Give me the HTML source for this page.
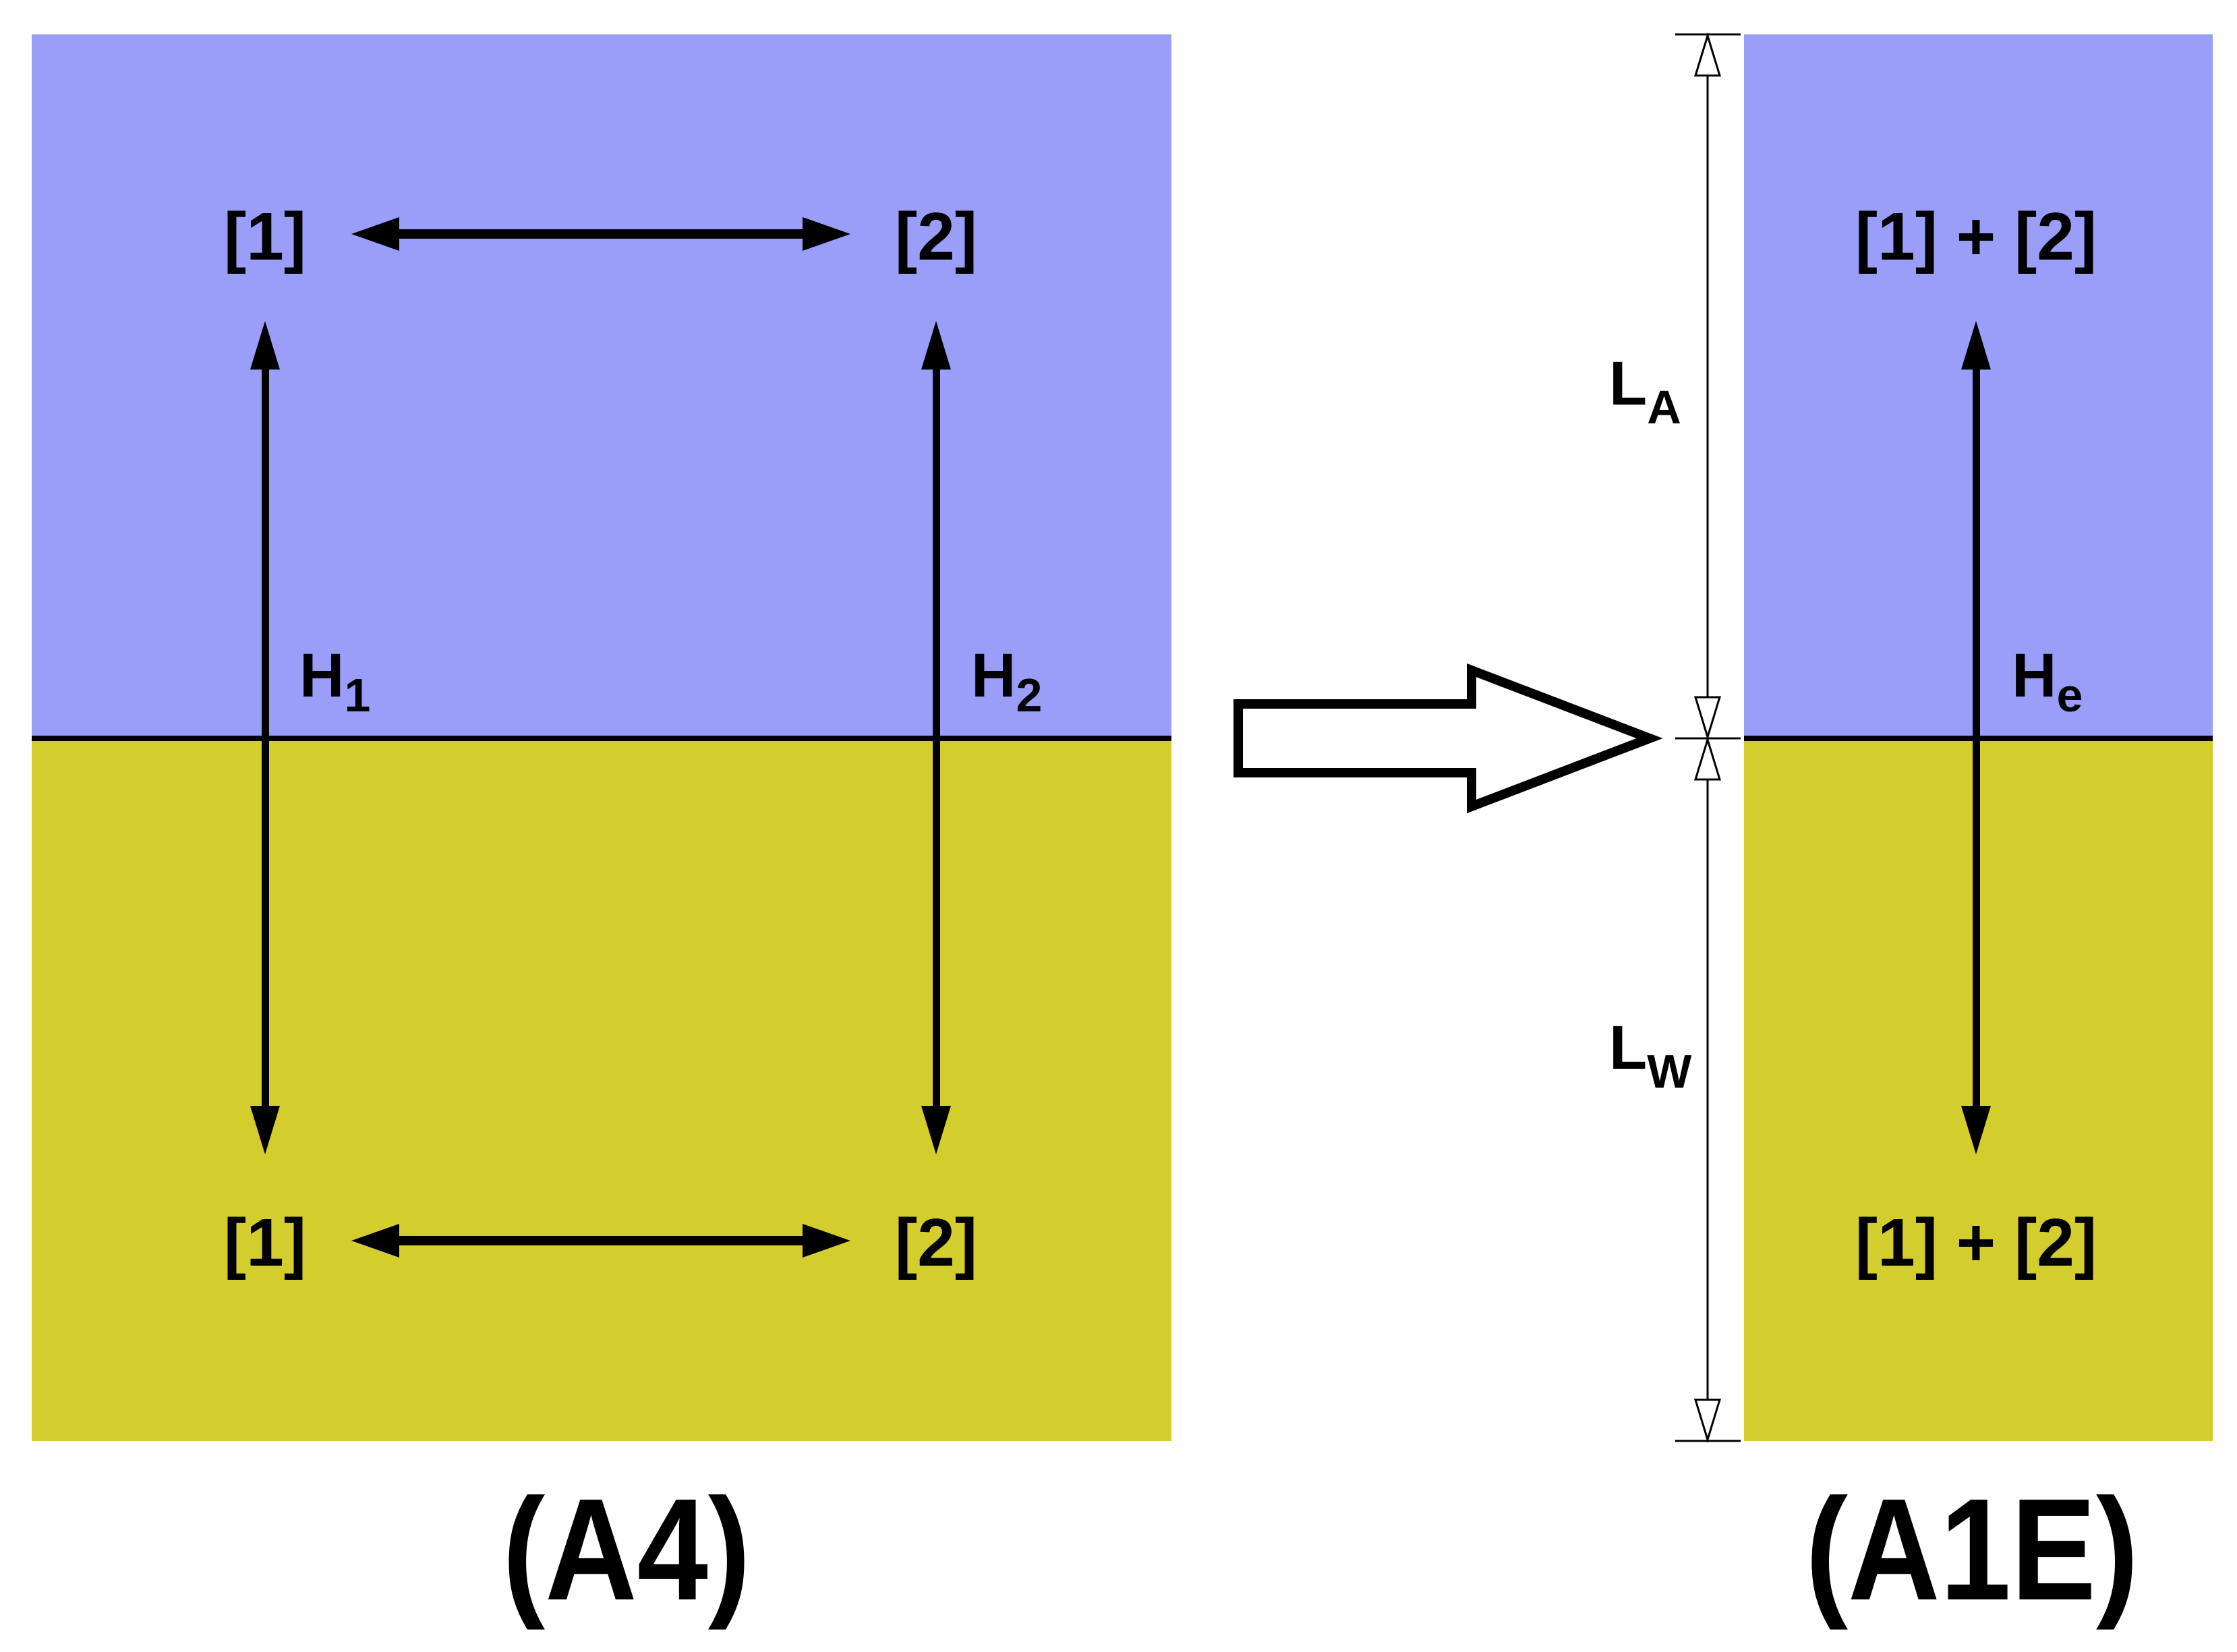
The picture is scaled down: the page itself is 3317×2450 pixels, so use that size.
<!DOCTYPE html>
<html><head><meta charset="utf-8"><style>
html,body{margin:0;padding:0;background:#fff;}
svg{display:block;}
text{font-family:"Liberation Sans Narrow","Liberation Sans",sans-serif;font-weight:bold;fill:#000;}
</style></head><body>
<svg width="3317" height="2450" viewBox="0 0 3317 2450" xmlns="http://www.w3.org/2000/svg">
<rect x="0" y="0" width="3317" height="2450" fill="#fff"/>
<!-- left box -->
<rect x="47" y="51" width="1690" height="1044" fill="#9a9ef9"/>
<rect x="47" y="1095" width="1690" height="1042" fill="#d3cd2e"/>
<line x1="47" y1="1095" x2="1737" y2="1095" stroke="#000" stroke-width="8"/>
<!-- right box -->
<rect x="2586" y="51" width="695" height="1044" fill="#9a9ef9"/>
<rect x="2586" y="1095" width="695" height="1042" fill="#d3cd2e"/>
<line x1="2586" y1="1095" x2="3281" y2="1095" stroke="#000" stroke-width="8"/>

<!-- horizontal arrows -->
<g fill="#000">
<rect x="580" y="340" width="622" height="14"/>
<polygon points="521,347 592,322 592,372"/>
<polygon points="1261,347 1190,322 1190,372"/>
<rect x="580" y="1833" width="622" height="14"/>
<polygon points="521,1840 592,1815 592,1865"/>
<polygon points="1261,1840 1190,1815 1190,1865"/>
</g>
<!-- vertical arrows -->
<g fill="#000">
<rect x="388" y="540" width="11" height="1110"/>
<polygon points="393,476 371,548 415,548"/>
<polygon points="393,1712 371,1640 415,1640"/>
<rect x="1383" y="540" width="11" height="1110"/>
<polygon points="1388,476 1366,548 1410,548"/>
<polygon points="1388,1712 1366,1640 1410,1640"/>
<rect x="2925" y="540" width="11" height="1110"/>
<polygon points="2930,476 2908,548 2952,548"/>
<polygon points="2930,1712 2908,1640 2952,1640"/>
</g>

<!-- labels -->
<g font-size="100" text-anchor="middle">
<text x="393" y="385">[1]</text>
<text x="1388" y="385">[2]</text>
<text x="393" y="1877">[1]</text>
<text x="1388" y="1877">[2]</text>
<text x="2930" y="385">[1] + [2]</text>
<text x="2930" y="1877">[1] + [2]</text>
</g>
<g font-size="92">
<text x="444" y="1033">H<tspan font-size="70" dy="22">1</tspan></text>
<text x="1440" y="1033">H<tspan font-size="70" dy="22">2</tspan></text>
<text x="2983" y="1033">H<tspan font-size="70" dy="22">e</tspan></text>
<text x="2386" y="600">L<tspan font-size="70" dy="28">A</tspan></text>
<text x="2386" y="1585">L<tspan font-size="70" dy="28">W</tspan></text>
</g>

<!-- dimension line -->
<g stroke="#000" stroke-width="3" fill="#fff">
<line x1="2532" y1="51" x2="2532" y2="2137"/>
<line x1="2484" y1="51" x2="2581" y2="51"/>
<line x1="2484" y1="1095" x2="2581" y2="1095"/>
<line x1="2484" y1="2137" x2="2581" y2="2137"/>
<polygon points="2532,53 2514,112 2550,112"/>
<polygon points="2532,1093 2514,1034 2550,1034"/>
<polygon points="2532,1097 2514,1156 2550,1156"/>
<polygon points="2532,2135 2514,2076 2550,2076"/>
</g>

<!-- big outline arrow -->
<polygon points="1836,1044 2182,1044 2182,994 2446,1095 2182,1196 2182,1146 1836,1146" fill="#fff" stroke="#000" stroke-width="14"/>

<!-- captions -->
<g font-size="215" text-anchor="middle">
<text transform="translate(929 2372) scale(0.88 1)">(A4)</text>
<text transform="translate(2924 2372) scale(0.88 1)">(A1E)</text>
</g>
</svg>
</body></html>
